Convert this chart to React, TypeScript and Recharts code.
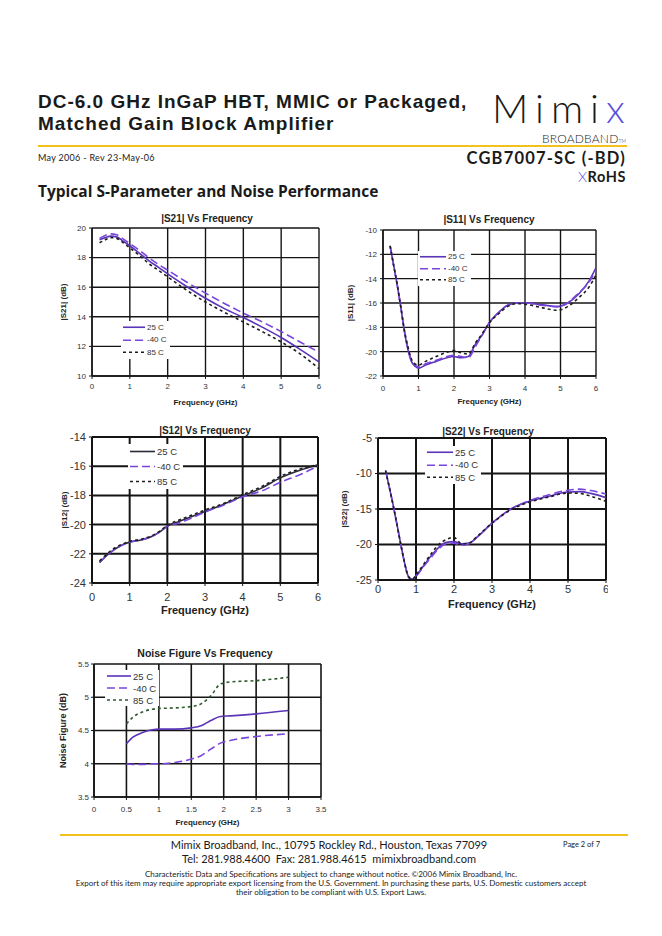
import React from "react";
import { LineChart, Line, XAxis, YAxis, CartesianGrid, Legend } from "recharts";

// values (GHz / dB)
const s21Freq = [0.2, 0.35, 0.5, 0.65, 0.8, 1, 1.25, 1.5, 1.75, 2, 2.5, 3, 3.5, 4, 4.5, 5, 5.5, 6];
const s21At25 = [19.2, 19.35, 19.45, 19.4, 19.15, 18.8, 18.3, 17.8, 17.35, 16.9, 16.05, 15.25, 14.55, 13.95, 13.3, 12.6, 11.8, 10.95];
const s21AtM40 = [19.3, 19.5, 19.6, 19.55, 19.3, 18.95, 18.5, 18.0, 17.55, 17.15, 16.35, 15.6, 14.9, 14.25, 13.65, 13.0, 12.3, 11.6];
const s21At85 = [19.0, 19.2, 19.35, 19.3, 19.05, 18.65, 18.15, 17.6, 17.15, 16.7, 15.8, 15.0, 14.3, 13.65, 13.0, 12.3, 11.5, 10.5];

const s11Freq = [0.2, 0.3, 0.4, 0.5, 0.6, 0.7, 0.8, 0.9, 1.0, 1.2, 1.5, 1.8, 2.0, 2.2, 2.4, 2.6, 2.8, 3.0, 3.25, 3.5, 3.8, 4.0, 4.5, 4.9, 5.2, 5.5, 5.8, 6.0];
const s11At25 = [-11.3, -12.9, -14.5, -16.3, -18.3, -19.8, -20.8, -21.2, -21.35, -21.1, -20.8, -20.5, -20.4, -20.5, -20.4, -19.4, -18.6, -17.6, -16.8, -16.2, -16.0, -16.0, -16.15, -16.3, -16.0, -15.3, -14.2, -13.1];
const s11AtM40 = [-11.3, -12.9, -14.5, -16.3, -18.2, -19.7, -20.7, -21.1, -21.25, -21.0, -20.7, -20.4, -20.3, -20.4, -20.5, -19.6, -18.6, -17.6, -16.8, -16.2, -16.0, -16.0, -16.2, -16.3, -16.0, -15.2, -14.3, -13.3];
const s11At85 = [-11.3, -12.9, -14.5, -16.3, -18.2, -19.6, -20.6, -21.0, -21.1, -20.8, -20.4, -20.05, -19.9, -20.1, -20.2, -19.3, -18.5, -17.6, -16.9, -16.3, -16.05, -16.1, -16.4, -16.6, -16.3, -15.6, -14.7, -13.7];

const s12Freq = [0.2, 0.4, 0.6, 0.8, 1.0, 1.3, 1.6, 1.8, 2.0, 2.3, 2.6, 3.0, 3.5, 4.0, 4.5, 5.0, 5.5, 6.0];
const s12At25 = [-22.6, -22.1, -21.7, -21.4, -21.2, -21.05, -20.8, -20.5, -20.1, -19.8, -19.5, -19.1, -18.6, -18.05, -17.5, -16.8, -16.3, -15.9];
const s12AtM40 = [-22.6, -22.1, -21.7, -21.4, -21.2, -21.05, -20.8, -20.5, -20.1, -19.9, -19.6, -19.15, -18.65, -18.1, -17.7, -17.1, -16.6, -16.0];
const s12At85 = [-22.5, -22.0, -21.6, -21.35, -21.15, -21.0, -20.75, -20.45, -20.05, -19.7, -19.4, -19.0, -18.55, -17.95, -17.4, -16.7, -16.2, -15.9];

const s22Freq = [0.2, 0.3, 0.4, 0.5, 0.6, 0.7, 0.8, 0.9, 1.0, 1.2, 1.4, 1.6, 1.8, 2.0, 2.2, 2.4, 2.6, 3.0, 3.5, 4.0, 4.5, 5.0, 5.3, 5.6, 6.0];
const s22At25 = [-9.6, -12, -14.5, -17.2, -20, -22.6, -24.5, -24.9, -24.4, -23.0, -21.6, -20.4, -19.7, -19.6, -19.9, -19.8, -19.0, -17.0, -15.0, -13.9, -13.2, -12.6, -12.55, -12.8, -13.4];
const s22AtM40 = [-9.6, -12, -14.5, -17.2, -20, -22.6, -24.6, -25, -24.5, -23.1, -21.8, -20.6, -19.9, -19.8, -20.1, -19.9, -19.0, -17.0, -15.0, -13.8, -13.0, -12.35, -12.2, -12.4, -12.9];
const s22At85 = [-9.6, -12, -14.5, -17.2, -20, -22.6, -24.5, -24.9, -24.3, -22.8, -21.3, -20.0, -19.3, -19.0, -19.9, -19.8, -18.9, -17.0, -15.1, -14.0, -13.3, -12.75, -12.8, -13.2, -13.9];

const nfFreq = [0.5, 0.6, 0.75, 0.9, 1.0, 1.25, 1.5, 1.65, 1.8, 1.95, 2.1, 2.5, 3.0];
const nfAt25 = [4.3, 4.4, 4.47, 4.51, 4.52, 4.52, 4.54, 4.57, 4.65, 4.71, 4.72, 4.75, 4.8];
const nfAtM40 = [4.0, 3.99, 3.99, 4.0, 4.0, 4.02, 4.07, 4.12, 4.22, 4.31, 4.35, 4.41, 4.45];
const nfAt85 = [4.6, 4.7, 4.78, 4.82, 4.83, 4.84, 4.86, 4.9, 5.02, 5.2, 5.23, 5.25, 5.3];

const ghzTicks = [0, 1, 2, 3, 4, 5, 6];
const nfFreqTicks = [0, 0.5, 1, 1.5, 2, 2.5, 3, 3.5];
const s21Ticks = [10, 12, 14, 16, 18, 20];
const s11Ticks = [-22, -20, -18, -16, -14, -12, -10];
const s12Ticks = [-24, -22, -20, -18, -16, -14];
const s22Ticks = [-25, -20, -15, -10, -5];
const nfTicks = [3.5, 4, 4.5, 5, 5.5];

const tempNames = ["25 C", "-40 C", "85 C"];

const PURPLE = "#5b34b8";
const VIOLET = "#7a45dc";
const BLACK = "#1e1e1e";
const YELLOW = "#f2c21b";
const CHART_FONT = '"Liberation Sans", Arial, sans-serif';
const PAGE_FONT = 'Lato, "Open Sans", sans-serif';
const HEAD_FONT = '"Open Sans", Lato, sans-serif';

const rows = (freq: number[], a: number[], b: number[], c: number[]) =>
  freq.map((f, i) => ({ f, t25: a[i], tm40: b[i], t85: c[i] }));

interface SeriesDef {
  key: string;
  color: string;
  dash?: string;
}

const std = (c25: string, c85: string): SeriesDef[] => [
  { key: "t25", color: c25 },
  { key: "tm40", color: VIOLET, dash: "8 4" },
  { key: "t85", color: c85, dash: "3 3" },
];

const ML = 60;
const MT = 20;
const MB = 40;

interface PlotProps {
  x: number;
  y: number;
  w: number;
  h: number;
  right?: number;
  data: any[];
  series: SeriesDef[];
  xDomain: [number, number];
  xTicks: number[];
  yDomain: [number, number];
  yTicks: number[];
  tickFont: number;
  xGap: number;
  yGap: number;
  grid: number;
  lineWidth: number;
  xLabel: string;
  yLabel: string;
  labelFont: number;
  yLabelFont: number;
  xLabelOffset: number;
  yLabelOffset: number;
  legendX: number;
  legendY: number;
  legendFont: number;
  legendRow: number;
  legendLine: number;
}

const LegendBox = ({ p }: { p: PlotProps }) => (
  <div style={{ background: "#fff", padding: "0 3px 0 2px", fontSize: p.legendFont, color: "#333", fontFamily: CHART_FONT }}>
    {p.series.map((s, i) => (
      <div key={s.key} style={{ display: "flex", alignItems: "center", height: p.legendRow }}>
        <svg width={p.legendLine} height={p.legendRow}>
          <line x1={0} x2={p.legendLine} y1={p.legendRow / 2} y2={p.legendRow / 2} stroke={s.color} strokeWidth={1.6} strokeDasharray={s.dash} />
        </svg>
        <span style={{ marginLeft: 2, whiteSpace: "nowrap" }}>{tempNames[i]}</span>
      </div>
    ))}
  </div>
);

const Plot: React.FC<PlotProps> = (p) => {
  const right = p.right ?? 20;
  const left = p.x - ML;
  const top = p.y - MT;
  const width = ML + p.w + right;
  const height = MT + p.h + MB;
  const tick = { fontSize: p.tickFont, fill: "#333" };
  return (
    <div style={{ position: "absolute", left, top, width, height, overflow: "hidden", fontFamily: CHART_FONT }}>
      <LineChart width={width} height={height} data={p.data} margin={{ top: MT, right, left: 0, bottom: 0 }}>
        <CartesianGrid stroke="#151515" strokeWidth={p.grid} />
        <XAxis
          type="number"
          dataKey="f"
          domain={p.xDomain}
          ticks={p.xTicks}
          interval={0}
          height={MB}
          tickSize={3}
          tickMargin={p.xGap}
          tick={tick}
          axisLine={{ stroke: "#151515", strokeWidth: p.grid }}
          tickLine={{ stroke: "#151515" }}
          allowDataOverflow
          label={{ value: p.xLabel, position: "insideBottom", offset: p.xLabelOffset, fontSize: p.labelFont, fontWeight: "bold", fill: "#222" }}
        />
        <YAxis
          type="number"
          domain={p.yDomain}
          ticks={p.yTicks}
          interval={0}
          width={ML}
          tickSize={3}
          tickMargin={p.yGap}
          tick={tick}
          axisLine={{ stroke: "#151515", strokeWidth: p.grid }}
          tickLine={{ stroke: "#151515" }}
          allowDataOverflow
          label={{ value: p.yLabel, angle: -90, position: "insideLeft", offset: p.yLabelOffset, fontSize: p.yLabelFont, fontWeight: "bold", fill: "#222", style: { textAnchor: "middle" } }}
        />
        {p.series.map((s, i) => (
          <Line
            key={s.key}
            type="monotone"
            dataKey={s.key}
            name={tempNames[i]}
            stroke={s.color}
            strokeWidth={p.lineWidth}
            strokeDasharray={s.dash}
            dot={false}
            activeDot={false}
            isAnimationActive={false}
          />
        ))}
        <Legend
          layout="vertical"
          align="center"
          verticalAlign="middle"
          wrapperStyle={{ left: p.legendX - left, top: p.legendY - top, width: "auto" }}
          content={() => <LegendBox p={p} />}
        />
      </LineChart>
    </div>
  );
};

const Title = ({ cx, cy, size, children }: { cx: number; cy: number; size: number; children: React.ReactNode }) => (
  <div
    style={{
      position: "absolute",
      left: cx,
      top: cy,
      transform: "translate(-50%, -50%)",
      fontFamily: CHART_FONT,
      fontWeight: "bold",
      fontSize: size,
      color: "#222",
      whiteSpace: "nowrap",
    }}
  >
    {children}
  </div>
);

const abs = (left: number, top: number, extra: React.CSSProperties = {}): React.CSSProperties => ({
  position: "absolute",
  left,
  top,
  whiteSpace: "nowrap",
  lineHeight: 1,
  ...extra,
});

export default function App() {
  const common = { xGap: 4, yGap: 3, lineWidth: 1.6, legendLine: 24 };
  return (
    <div style={{ position: "absolute", left: 0, top: 0, width: 662, height: 936, background: "#fff", overflow: "hidden", fontFamily: PAGE_FONT, color: "#1a1a1a" }}>
      {/* header */}
      <div style={abs(38, 91, { fontFamily: CHART_FONT, fontSize: 19, fontWeight: "bold", lineHeight: "22px", letterSpacing: 1 })}>
        DC-6.0 GHz InGaP HBT, MMIC or Packaged,
        <br />
        Matched Gain Block Amplifier
      </div>
      <div style={abs(492, 91, { fontSize: 40, fontWeight: 300, letterSpacing: 7, lineHeight: "34px" })}>
        Mimi<span style={{ color: "#5a4fd6" }}>x</span>
      </div>
      <div style={abs(542, 133, { fontSize: 12, fontWeight: 300, letterSpacing: 0.2 })}>
        BROADBAND<span style={{ fontSize: 5 }}>TM</span>
      </div>
      <div style={{ position: "absolute", left: 38, top: 145, width: 589, height: 2, background: YELLOW }} />
      <div style={abs(38, 153, { fontSize: 9, letterSpacing: 0.3 })}>May 2006 - Rev 23-May-06</div>
      <div style={abs(0, 150, { width: 626, textAlign: "right", fontSize: 16.5, fontWeight: "bold", letterSpacing: 1.2 })}>CGB7007-SC (-BD)</div>
      <div style={abs(0, 169.5, { width: 626, textAlign: "right", fontSize: 14.5, fontWeight: "bold", letterSpacing: 0.6 })}>
        <span style={{ color: "#5a4fd6", fontWeight: 300 }}>X</span>RoHS
      </div>
      <div style={abs(38, 184, { fontFamily: HEAD_FONT, fontSize: 15.5, fontWeight: "bold" })}>Typical S-Parameter and Noise Performance</div>

      {/* |S21| */}
      <Title cx={207} cy={218} size={10}>|S21| Vs Frequency</Title>
      <Plot
        {...common}
        x={92} y={228} w={227} h={148}
        data={rows(s21Freq, s21At25, s21AtM40, s21At85)}
        series={std(PURPLE, BLACK)}
        xDomain={[0, 6]} xTicks={ghzTicks} yDomain={[10, 20]} yTicks={s21Ticks}
        tickFont={8} grid={1.4}
        xLabel="Frequency (GHz)" yLabel="|S21| (dB)" labelFont={8} yLabelFont={8}
        xLabelOffset={11} yLabelOffset={31}
        legendX={121} legendY={321} legendFont={8} legendRow={12.5} legendLine={22}
      />

      {/* |S11| */}
      <Title cx={489} cy={219} size={10}>|S11| Vs Frequency</Title>
      <Plot
        {...common}
        x={383} y={230} w={213} h={146}
        data={rows(s11Freq, s11At25, s11AtM40, s11At85)}
        series={std(PURPLE, BLACK)}
        xDomain={[0, 6]} xTicks={ghzTicks} yDomain={[-22, -10]} yTicks={s11Ticks}
        tickFont={8} grid={1.4} xGap={6}
        xLabel="Frequency (GHz)" yLabel="|S11| (dB)" labelFont={8} yLabelFont={8}
        xLabelOffset={12} yLabelOffset={27}
        legendX={418} legendY={251} legendFont={8} legendRow={11.5} legendLine={26}
      />

      {/* |S12| */}
      <Title cx={205} cy={430} size={10}>|S12| Vs Frequency</Title>
      <Plot
        {...common}
        x={92} y={437} w={226} h={146}
        data={rows(s12Freq, s12At25, s12AtM40, s12At85)}
        series={std("#2a2a38", BLACK)}
        xDomain={[0, 6]} xTicks={ghzTicks} yDomain={[-24, -14]} yTicks={s12Ticks}
        tickFont={11} grid={2} xGap={7} yGap={3}
        xLabel="Frequency (GHz)" yLabel="|S12| (dB)" labelFont={11} yLabelFont={8}
        xLabelOffset={9} yLabelOffset={32}
        legendX={128} legendY={444} legendFont={9.5} legendRow={15} legendLine={25}
      />

      {/* |S22| */}
      <Title cx={488} cy={431} size={10}>|S22| Vs Frequency</Title>
      <Plot
        {...common}
        x={378} y={438} w={228} h={142} right={2}
        data={rows(s22Freq, s22At25, s22AtM40, s22At85)}
        series={std(PURPLE, BLACK)}
        xDomain={[0, 6]} xTicks={ghzTicks} yDomain={[-25, -5]} yTicks={s22Ticks}
        tickFont={11} grid={2} xGap={2} yGap={3}
        xLabel="Frequency  (GHz)" yLabel="|S22| (dB)" labelFont={11} yLabelFont={8}
        xLabelOffset={12} yLabelOffset={26}
        legendX={425} legendY={446} legendFont={9.5} legendRow={12.5} legendLine={26}
      />

      {/* Noise figure */}
      <Title cx={205} cy={653} size={10.5}>Noise Figure Vs Frequency</Title>
      <Plot
        {...common}
        x={94} y={664} w={227} h={133}
        data={rows(nfFreq, nfAt25, nfAtM40, nfAt85)}
        series={std(PURPLE, "#2d5a2d")}
        xDomain={[0, 3.5]} xTicks={nfFreqTicks} yDomain={[3.5, 5.5]} yTicks={nfTicks}
        tickFont={8} grid={1.6} xGap={6} yGap={2}
        xLabel="Frequency (GHz)" yLabel="Noise Figure (dB)" labelFont={8} yLabelFont={9}
        xLabelOffset={12} yLabelOffset={29}
        legendX={105} legendY={670} legendFont={9.5} legendRow={12} legendLine={24}
      />

      {/* footer */}
      <div style={{ position: "absolute", left: 60, top: 834, width: 568, height: 2, background: YELLOW }} />
      <div style={abs(0, 839, { width: 662, textAlign: "center", fontSize: 11, transform: "translateX(-2px)" })}>
        Mimix Broadband, Inc., 10795 Rockley Rd., Houston, Texas 77099
      </div>
      <div style={abs(0, 853, { width: 662, textAlign: "center", fontSize: 11, transform: "translateX(-2px)" })}>
        Tel: 281.988.4600&nbsp;&nbsp;Fax: 281.988.4615&nbsp;&nbsp;mimixbroadband.com
      </div>
      <div style={abs(563, 841, { fontSize: 7.5 })}>Page 2 of 7</div>
      <div style={abs(0, 870, { width: 662, textAlign: "center", fontSize: 8, lineHeight: "9px" })}>
        Characteristic Data and Specifications are subject to change without notice. ©2006 Mimix Broadband, Inc.
        <br />
        Export of this item may require appropriate export licensing from the U.S. Government. In purchasing these parts, U.S. Domestic customers accept
        <br />
        their obligation to be compliant with U.S. Export Laws.
      </div>
    </div>
  );
}
